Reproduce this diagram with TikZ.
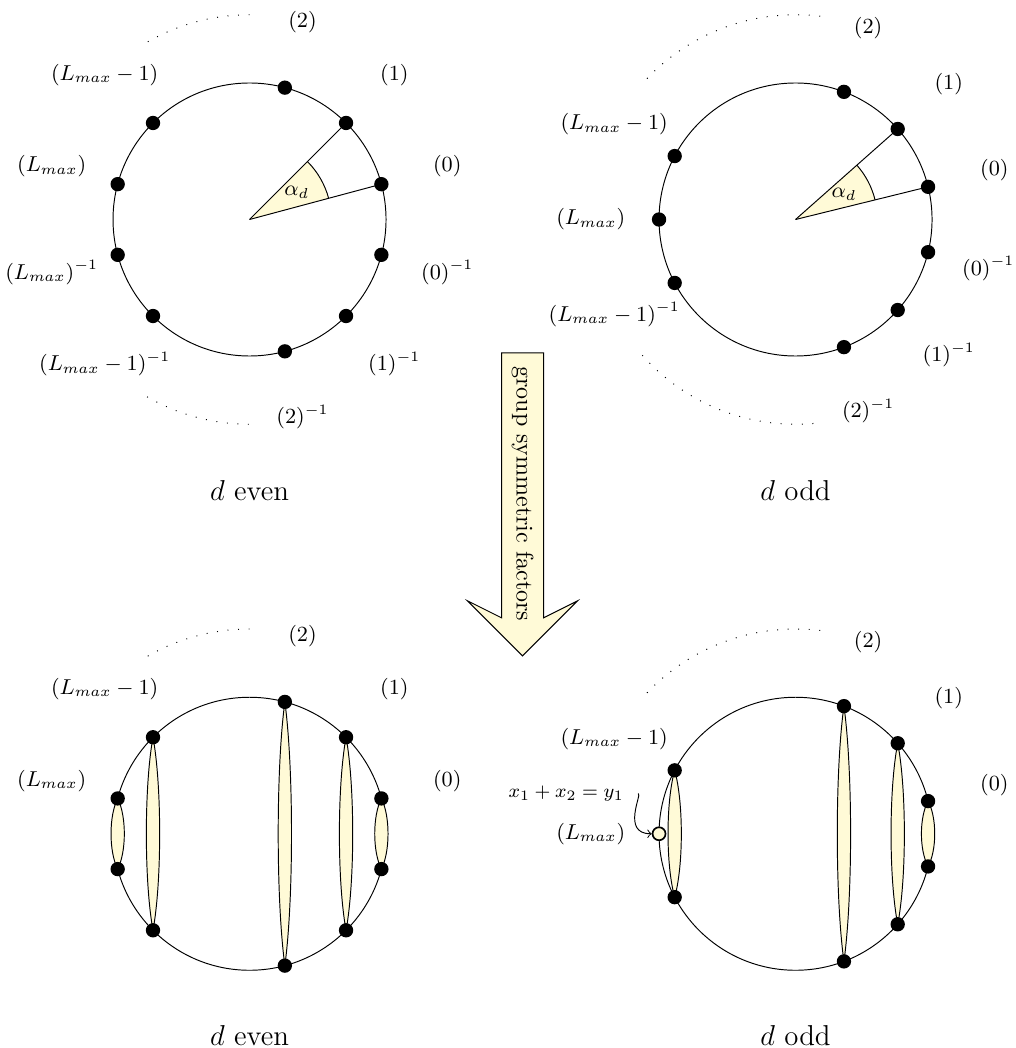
\documentclass[tikz,border=0pt]{standalone}
\usepackage{tikz}
\usetikzlibrary{shapes.arrows,calc}
\definecolor{paleyellow}{RGB}{255,250,215}
\newcommand{\drawlens}[2]{\filldraw[lensStyle] (#1) .. controls ($(#1)!0.25!(#2)+(0.13,0)$) and ($(#1)!0.75!(#2)+(0.13,0)$) .. (#2) .. controls ($(#1)!0.75!(#2)-(0.13,0)$) and ($(#1)!0.25!(#2)-(0.13,0)$) .. (#1) -- cycle;}

\begin{document}
\begin{tikzpicture}[
  dot/.style={circle, fill=black, inner sep=0pt, minimum size=0.21cm},
  openDot/.style={circle, draw=black, fill=paleyellow, line width=0.7pt, inner sep=0pt, minimum size=0.19cm},
  lbl/.style={font=\small},
  caption/.style={font=\large, anchor=base},
  gapArc/.style={loosely dotted},
  lensStyle/.style={draw=black, fill=paleyellow},
  bigArrow/.style={single arrow, draw=black, fill=paleyellow, rotate=-90, single arrow head extend=0.5cm, single arrow head indent=0.25cm, minimum height=4.44cm, inner ysep=4pt}]

\useasboundingbox (-3.656,-12.139) rectangle (11.216,3.216);

% d even
\draw (0,0) circle (2);
\fill[paleyellow] (0,0) -- (15:1.2) arc (15:45:1.2) -- cycle;
\draw (15:1.2) arc (15:45:1.2);
\foreach \a [count=\i] in {15,45,75,135,165,195,225,285,315,345}
  \node[dot] (ea\i) at (\a:2) {};
\draw (0,0) -- (ea1.center);
\draw (0,0) -- (ea2.center);
\node[lbl] (alphaEven) at (30:0.8) {$\alpha_d$};
\foreach \a/\t [count=\i] in {15/{(0)}, 45/{(1)}, 75/{(2)}, 135/{(L_{max}-1)}, 165/{(L_{max})}, 195/{(L_{max})^{-1}}, 225/{(L_{max}-1)^{-1}}, 285/{(2)^{-1}}, 315/{(1)^{-1}}, 345/{(0)^{-1}}}
  \node[lbl] (eaLabel\i) at (\a:3) {$\t$};
\draw[gapArc] (90:3) arc (90:120:3);
\draw[gapArc] (240:3) arc (240:270:3);
\node[caption] (capEvenTop) at (0,-4.12) {$d$ even};

% d odd
\begin{scope}[shift={(8,0)}]
\draw (0,0) circle (2);
\fill[paleyellow] (0,0) -- (13.846:1.2) arc (13.846:41.538:1.2) -- cycle;
\draw (13.846:1.2) arc (13.846:41.538:1.2);
\foreach \a [count=\i] in {13.846,41.538,69.231,152.308,180,207.692,290.769,318.462,346.154}
  \node[dot] (oa\i) at (\a:2) {};
\draw (0,0) -- (oa1.center);
\draw (0,0) -- (oa2.center);
\node[lbl] (alphaOdd) at (27.692:0.8) {$\alpha_d$};
\foreach \a/\t [count=\i] in {13.846/{(0)}, 41.538/{(1)}, 69.231/{(2)}, 152.308/{(L_{max}-1)}, 180/{(L_{max})}, 207.692/{(L_{max}-1)^{-1}}, 290.769/{(2)^{-1}}, 318.462/{(1)^{-1}}}
  \node[lbl] (oaLabel\i) at (\a:3) {$\t$};
\node[lbl, xshift=-2.5pt] (oaLabel9) at (346.154:3) {$(0)^{-1}$};
\draw[gapArc] (83.077:3) arc (83.077:138.462:3);
\draw[gapArc] (221.538:3) arc (221.538:276.923:3);
\node[caption] (capOddTop) at (0,-4.12) {$d$ odd};
\end{scope}

\node[bigArrow] (groupArrow) at (4,-4.02) {group symmetric factors};

% d even, grouped
\begin{scope}[shift={(0,-9)}]
\draw (0,0) circle (2);
\foreach \a [count=\i] in {15,45,75,135,165,195,225,285,315,345}
  \coordinate (eb\i) at (\a:2);
\drawlens{eb3}{eb8}
\drawlens{eb2}{eb9}
\drawlens{eb1}{eb10}
\drawlens{eb4}{eb7}
\drawlens{eb5}{eb6}
\foreach \i in {1,...,10}
  \node[dot] (ebDot\i) at (eb\i) {};
\foreach \a/\t [count=\i] in {15/{(0)}, 45/{(1)}, 75/{(2)}, 135/{(L_{max}-1)}, 165/{(L_{max})}}
  \node[lbl] (ebLabel\i) at (\a:3) {$\t$};
\draw[gapArc] (90:3) arc (90:120:3);
\node[caption] (capEvenBottom) at (0,-3.1) {$d$ even};
\end{scope}

% d odd, grouped
\begin{scope}[shift={(8,-9)}]
\draw (0,0) circle (2);
\foreach \a [count=\i] in {13.846,41.538,69.231,152.308,207.692,290.769,318.462,346.154}
  \coordinate (ob\i) at (\a:2);
\drawlens{ob3}{ob6}
\drawlens{ob2}{ob7}
\drawlens{ob1}{ob8}
\drawlens{ob4}{ob5}
\foreach \i in {1,...,8}
  \node[dot] (obDot\i) at (ob\i) {};
\node[openDot] (selfDot) at (180:2) {};
\foreach \a/\t [count=\i] in {13.846/{(0)}, 41.538/{(1)}, 69.231/{(2)}, 152.308/{(L_{max}-1)}, 180/{(L_{max})}}
  \node[lbl] (obLabel\i) at (\a:3) {$\t$};
\draw[gapArc] (83.077:3) arc (83.077:138.462:3);
\node[font=\footnotesize] (sumLabel) at (-3.36,0.59) {$x_1+x_2=y_1$};
\draw[->, shorten <=2.5pt] (sumLabel.east) .. controls +(0.15,0) and +(-0.45,0) .. (selfDot.west);
\node[caption] (capOddBottom) at (0,-3.1) {$d$ odd};
\end{scope}
\end{tikzpicture}
\end{document}
